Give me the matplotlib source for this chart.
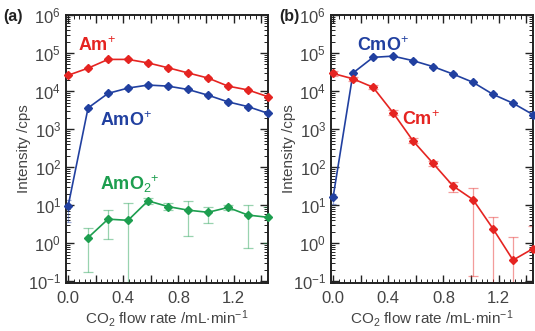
import numpy as np
import matplotlib
matplotlib.use("Agg")
import matplotlib.pyplot as plt
from matplotlib.ticker import MultipleLocator, FixedLocator, LogLocator, FuncFormatter, NullFormatter

plt.rcParams['font.family'] = ['Liberation Sans', 'DejaVu Sans']
plt.rcParams['mathtext.fontset'] = 'custom'
plt.rcParams['mathtext.rm'] = 'Liberation Sans'
plt.rcParams['mathtext.it'] = 'Liberation Sans:italic'
plt.rcParams['mathtext.bf'] = 'Liberation Sans:bold'

# ---------------- data ----------------
flow = [0, 0.145, 0.29, 0.435, 0.58, 0.725, 0.87, 1.015, 1.16, 1.305, 1.45]
x_major = [0.0, 0.2, 0.4, 0.6, 0.8, 1.0, 1.2, 1.4]

am = [2.6e4, 4.0e4, 6.8e4, 6.8e4, 5.5e4, 4.1e4, 3.0e4, 2.2e4, 1.35e4, 1.07e4, 7.1e3]
amo = [9.3, 3.6e3, 8.7e3, 1.2e4, 1.44e4, 1.35e4, 1.1e4, 7.8e3, 5.2e3, 3.9e3, 2.6e3]
amo2 = [np.nan, 1.4, 4.3, 4.0, 13, 9.2, 7.4, 6.5, 8.7, 5.5, 4.8]
amo2_lo = [np.nan, 0.18, 1.3, 0.01, 11, 7.4, 1.55, 3.3, 7.5, 0.75, 1.0]
amo2_hi = [np.nan, 2.5, 7.4, 11.5, 15, 11.5, 12.9, 9.2, 10, 10, 9.2]
amo_lo0, amo_hi0 = 3.6, 13.5

cmo = [16, 3.0e4, 7.7e4, 8.3e4, 6.3e4, 4.4e4, 2.8e4, 1.7e4, 8.2e3, 4.8e3, 2.4e3]
cm = [2.9e4, 2.1e4, 1.26e4, 2.7e3, 490, 126, 32, 14, 2.4, 0.36, 0.72]
cm_lo = [2.5e4, 1.8e4, 1.1e4, 2.3e3, 420, 108, 22, 0.14, 0.01, 0.01, 0.01]
cm_hi = [3.4e4, 2.4e4, 1.45e4, 3.1e3, 570, 146, 40, 27.5, 4.8, 1.5, 2.9]
cmo_lo0, cmo_hi0 = 11, 20

RED = '#e52421'
BLUE = '#2140a0'
GREEN = '#1d9e4f'
TXT = '#444444'

fig = plt.figure(figsize=(5.35, 3.31), dpi=100)
axA = fig.add_axes([66/535, 48/331, 202/535, 268/331])
axB = fig.add_axes([331/535, 48/331, 202/535, 268/331])


def style(ax):
    ax.set_yscale('log')
    ax.set_xlim(-0.015, 1.45)
    ax.set_ylim(0.09, 1.0e6)
    ax.xaxis.set_major_locator(FixedLocator(x_major))
    ax.xaxis.set_minor_locator(MultipleLocator(0.04))
    ax.xaxis.set_major_formatter(FuncFormatter(
        lambda v, p: ('%.1f' % v) if abs(round(v / 0.4) * 0.4 - v) < 1e-6 else ''))
    ax.yaxis.set_major_locator(LogLocator(base=10, numticks=20))
    ax.yaxis.set_minor_locator(LogLocator(base=10, subs=np.arange(2, 10), numticks=20))
    ax.yaxis.set_minor_formatter(NullFormatter())
    ax.tick_params(which='both', direction='in', top=True, right=True,
                   colors='#222222', labelcolor=TXT, labelsize=12)
    ax.tick_params(which='major', length=6, width=1.0)
    ax.tick_params(which='minor', length=3, width=0.7)
    ax.tick_params(axis='x', pad=6)
    for s in ax.spines.values():
        s.set_linewidth(1.4)
        s.set_color('#222222')
    ax.set_xlabel('CO$_2$ flow rate /mL$\\cdot$min$^{-1}$', fontsize=11, color=TXT, labelpad=1)
    ax.set_ylabel('Intensity /cps', fontsize=11, color=TXT)
    ax.yaxis.set_label_coords(-0.175, 0.5)


def series(ax, y, lo, hi, color, cap):
    y = np.array(y, dtype=float)
    err = np.vstack([y - np.array(lo, dtype=float), np.array(hi, dtype=float) - y])
    ax.errorbar(flow, y, yerr=err, fmt='none', ecolor=color, alpha=0.45,
                elinewidth=0.9, capsize=cap, capthick=0.9, clip_on=True)
    ax.plot(flow, y, '-', color=color, lw=1.2, marker='D', ms=4.3, mec=color,
            mfc=color, clip_on=False, zorder=3)


style(axA)
style(axB)

am_a = np.array(am)
series(axA, am, am_a * 0.9, am_a * 1.1, RED, 2.5)
amo_a = np.array(amo)
amo_l = amo_a * 0.9
amo_h = amo_a * 1.1
amo_l[0], amo_h[0] = amo_lo0, amo_hi0
series(axA, amo, amo_l, amo_h, BLUE, 2.5)
series(axA, amo2, amo2_lo, amo2_hi, GREEN, 3.5)

cmo_a = np.array(cmo)
cmo_l = cmo_a * 0.9
cmo_h = cmo_a * 1.1
cmo_l[0], cmo_h[0] = cmo_lo0, cmo_hi0
series(axB, cmo, cmo_l, cmo_h, BLUE, 2.5)
series(axB, cm, cm_lo, cm_hi, RED, 3.5)

# annotations
axA.text(0.06, 0.885, 'Am$^{+}$', transform=axA.transAxes, color=RED,
         fontsize=13, fontweight='bold', va='center')
axA.text(0.17, 0.605, 'AmO$^{+}$', transform=axA.transAxes, color=BLUE,
         fontsize=13, fontweight='bold', va='center')
axA.text(0.17, 0.37, 'AmO$_{2}$$^{+}$', transform=axA.transAxes, color=GREEN,
         fontsize=13, fontweight='bold', va='center')
axB.text(0.13, 0.885, 'CmO$^{+}$', transform=axB.transAxes, color=BLUE,
         fontsize=13, fontweight='bold', va='center')
axB.text(0.35, 0.61, 'Cm$^{+}$', transform=axB.transAxes, color=RED,
         fontsize=13, fontweight='bold', va='center')

fig.text(3/535, 1 - 16/331, '(a)', fontsize=11.5, fontweight='bold', color='#222222', va='center')
fig.text(279/535, 1 - 16/331, '(b)', fontsize=11.5, fontweight='bold', color='#222222', va='center')

fig.savefig('out.png', dpi=100)
